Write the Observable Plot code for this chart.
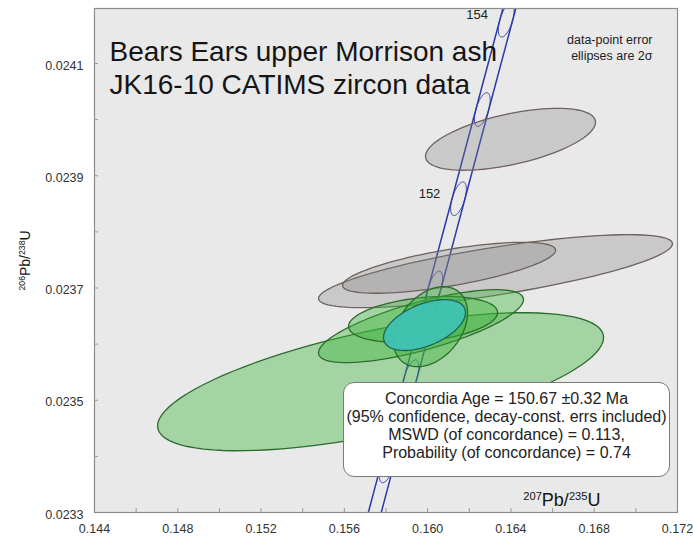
<!DOCTYPE html>
<html><head><meta charset="utf-8">
<script src="https://cdn.jsdelivr.net/npm/d3@7"></script>
<script src="https://cdn.jsdelivr.net/npm/@observablehq/plot@0.6"></script>
<style>
body{margin:0;background:#fff;font-family:"Liberation Sans",Arial,Helvetica,sans-serif;}
#wrap{position:relative;width:693px;height:540px;}
#box{position:absolute;left:343px;top:382px;width:327px;height:95px;border:1.3px solid #7a7a7a;border-radius:11px;background:#fff;text-align:center;font-size:16px;line-height:18px;color:#222;padding-top:7px;box-sizing:border-box;white-space:nowrap;}
</style></head><body><div id="wrap"></div>
<script>
// ---- axis ticks ----
const xTicks = [0.144, 0.148, 0.152, 0.156, 0.160, 0.164, 0.168, 0.172];
const yTicks = [0.0233, 0.0235, 0.0237, 0.0239, 0.0241];
const xMinorTicks = [0.146, 0.150, 0.154, 0.158, 0.162, 0.166, 0.170, 0.148, 0.152, 0.156, 0.160, 0.164, 0.168];
const yMinorTicks = [0.0234, 0.0236, 0.0238, 0.0240, 0.0235, 0.0237, 0.0239, 0.0241];

// ---- data-point error ellipses (2 sigma): centre, errors, error correlation ----
const dataGroup = ["grey", "grey", "grey", "green", "green", "green", "green"];
const dataX    = [0.16326, 0.16103, 0.16398, 0.15774, 0.15968, 0.15978, 0.16014];
const dataY    = [0.023730, 0.023736, 0.023965, 0.023533, 0.023632, 0.023644, 0.023631];
const dataErrX = [0.00850, 0.005115, 0.004082, 0.01071, 0.004923, 0.003578, 0.001777];
const dataErrY = [0.000065, 0.0000454, 0.0000552, 0.000123, 0.000065, 0.000041, 0.0000713];
const dataRho  = [0.75, 0.69, 0.55, 0.64, 0.73, 0.30, 0.35];

// ---- concordia-age (mean) ellipse ----
const meanX = 0.15985, meanY = 0.023634, meanErrX = 0.001969, meanErrY = 0.0000454, meanRho = 0.49;

// ---- concordia curve (decay-constant error band) ----
const concAge = [148, 149, 150, 151, 152, 153, 154, 155];
const concX = [0.156916, 0.158057, 0.159197, 0.160339, 0.161482, 0.162626, 0.163773, 0.164919];
const concY = [0.023224, 0.023383, 0.023542, 0.023700, 0.023859, 0.024018, 0.024177, 0.024336];
const concBandX = 0.00031;
const markerErrX = 0.000378, markerErrY = 0.00003, markerRho = 0.571;
const concLabelAges = [152, 154];

// ---- build tables ----
function ellipse(cx, cy, sx, sy, r, id, n = 96) {
  const q = Math.sqrt(1 - r * r);
  return d3.range(n).map(k => {
    const t = 2 * Math.PI * k / n;
    return {id, x: cx + sx * Math.cos(t), y: cy + sy * (r * Math.cos(t) + q * Math.sin(t))};
  });
}
const dataPts = dataX.flatMap((x, i) => ellipse(x, dataY[i], dataErrX[i], dataErrY[i], dataRho[i], i).map(p => ({...p, group: dataGroup[i]})));
const meanPts = ellipse(meanX, meanY, meanErrX, meanErrY, meanRho, "mean");
const bandPts = concAge.flatMap((a, i) => [
  {side: "lo", age: a, x: concX[i] - concBandX, y: concY[i]},
  {side: "hi", age: a, x: concX[i] + concBandX, y: concY[i]}
]);
const markerPts = concAge.flatMap((a, i) => ellipse(concX[i], concY[i], markerErrX, markerErrY, markerRho, a, 48));
const labelRows = concLabelAges.map(a => ({age: a, x: concX[concAge.indexOf(a)], y: concY[concAge.indexOf(a)]}));

const blue = "#2b3aa8";
const chart = Plot.plot({
  width: 693, height: 540,
  marginLeft: 94, marginRight: 16, marginTop: 8, marginBottom: 28,
  style: {fontFamily: "Liberation Sans, Arial, sans-serif", fontSize: "12.5px", background: "#fff", color: "#333"},
  x: {domain: [0.144, 0.172]},
  y: {domain: [0.0233, 0.024198]},
  marks: [
    Plot.frame({fill: "#e9e9e9", stroke: null}),
    Plot.line(bandPts, {x: "x", y: "y", z: "side", stroke: blue, strokeWidth: 1.5, clip: true}),
    Plot.line(markerPts, {x: "x", y: "y", z: "id", stroke: blue, strokeWidth: 0.9, curve: "linear-closed", clip: true}),
    Plot.text(labelRows, {x: "x", y: "y", text: d => String(d.age), dx: -29, dy: -5, fontSize: 13, fill: "#222"}),
    Plot.line(dataPts.filter(d => d.group === "grey"), {x: "x", y: "y", z: "id", curve: "linear-closed",
      fill: "#808080", fillOpacity: 0.3, stroke: "#6e625c", strokeWidth: 1.3}),
    Plot.line(dataPts.filter(d => d.group === "green"), {x: "x", y: "y", z: "id", curve: "linear-closed",
      fill: "#3cb43c", fillOpacity: 0.4, stroke: "#2c6b2c", strokeWidth: 1.3}),
    Plot.line(meanPts, {x: "x", y: "y", z: "id", curve: "linear-closed",
      fill: "#3fc2b6", fillOpacity: 0.92, stroke: "#1f6650", strokeWidth: 1.3}),
    Plot.frame({stroke: "#8c8c8c", strokeWidth: 1.2}),
    Plot.axisX({ticks: xMinorTicks, tickSize: 4, dy: -4, tickFormat: () => "", label: null, stroke: "#999"}),
    Plot.axisY({ticks: yMinorTicks, tickSize: 4, dx: 4, tickFormat: () => "", label: null, stroke: "#999"}),
    Plot.axisX({ticks: xTicks, tickSize: 0, tickPadding: 12, tickFormat: d3.format(".3f"), label: null, fill: "#333"}),
    Plot.axisY({ticks: yTicks, tickSize: 0, tickPadding: 11, dy: 2, tickFormat: d3.format(".4f"), label: null, fill: "#333"}),
    Plot.text([0], {frameAnchor: "top-left", dx: 15, dy: 58.5, textAnchor: "start", lineAnchor: "middle", lineHeight: 1.19,
      fontSize: 28, fill: "#151515", text: () => "Bears Ears upper Morrison ash\nJK16-10 CATIMS zircon data"}),
    Plot.text([0], {frameAnchor: "top-right", dx: -25, dy: 38.5, textAnchor: "end", lineAnchor: "middle", lineHeight: 1.3,
      fontSize: 12.5, fill: "#222", text: () => "data-point error\nellipses are 2σ"}),
    Plot.text([0], {frameAnchor: "bottom-right", dx: -77, dy: -12, textAnchor: "end", lineAnchor: "middle",
      fontSize: 18, fill: "#151515", text: () => "²⁰⁷Pb/²³⁵U"}),
    Plot.text([0], {frameAnchor: "left", dx: -69, dy: 30, rotate: -90, lineAnchor: "middle",
      fontSize: 14, fill: "#151515", text: () => "²⁰⁶Pb/²³⁸U"})
  ]
});

// render superscript digits as raised, smaller tspans (keeps the text as real text)
const supMap = {"⁰": "0", "¹": "1", "²": "2", "³": "3", "⁴": "4", "⁵": "5", "⁶": "6", "⁷": "7", "⁸": "8", "⁹": "9"};
d3.select(chart).selectAll("text").each(function () {
  if (this.querySelector("tspan")) return;
  const s = this.textContent;
  if (![...s].some(ch => ch in supMap)) return;
  const runs = [];
  for (const ch of s) {
    const sup = ch in supMap, c = sup ? supMap[ch] : ch;
    if (runs.length && runs[runs.length - 1].sup === sup) runs[runs.length - 1].t += c;
    else runs.push({sup, t: c});
  }
  this.textContent = "";
  let raised = false;
  for (const r of runs) {
    const ts = document.createElementNS("http://www.w3.org/2000/svg", "tspan");
    ts.textContent = r.t;
    if (r.sup) { ts.setAttribute("font-size", "62%"); ts.setAttribute("dy", raised ? "0" : "-0.55em"); raised = true; }
    else { if (raised) ts.setAttribute("dy", "0.341em"); raised = false; }
    this.appendChild(ts);
  }
});

const wrap = document.getElementById("wrap");
wrap.appendChild(chart);
const box = document.createElement("div");
box.id = "box";
box.innerHTML = "Concordia Age = 150.67 ±0.32 Ma<br>(95% confidence, decay-const. errs included)<br>MSWD (of concordance) = 0.113,<br>Probability (of concordance) = 0.74";
wrap.appendChild(box);
</script></body></html>
